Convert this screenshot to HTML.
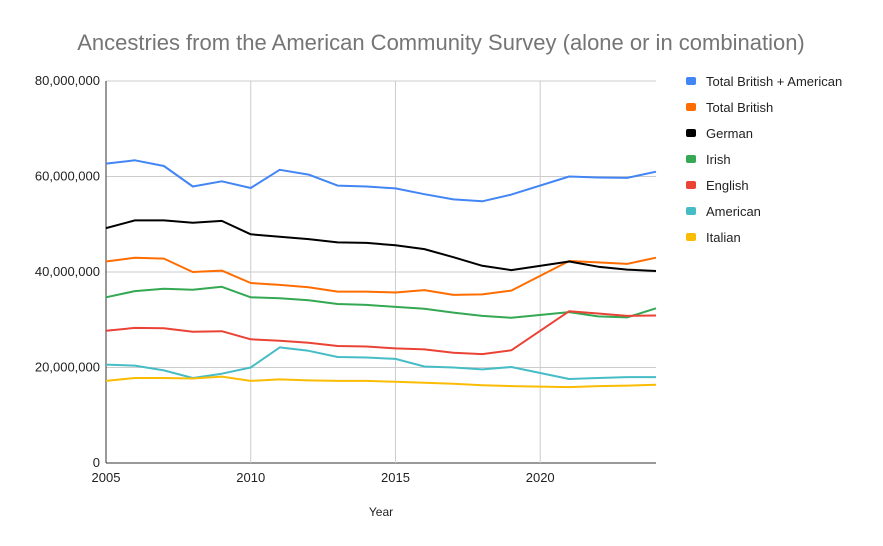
<!DOCTYPE html>
<html><head><meta charset="utf-8"><style>
body{margin:0;background:#fff;font-family:"Liberation Sans",Arial,sans-serif}
svg{display:block}
</style></head><body>
<svg id="chart" width="883" height="546">
<text x="441" y="50" text-anchor="middle" font-size="22" fill="#757575">Ancestries from the American Community Survey (alone or in combination)</text>
<g id="grid"></g><g id="lines"></g><g id="legend"></g>
<text x="381" y="516" text-anchor="middle" font-size="12" fill="#222">Year</text>
</svg>
<script>
const years=[2005,2006,2007,2008,2009,2010,2011,2012,2013,2014,2015,2016,2017,2018,2019,2020,2021,2022,2023,2024];
const names=["Total British + American","Total British","German","Irish","English","American","Italian"];
const colors=["#4285f4","#ff6d01","#000000","#34a853","#ea4335","#46bdc6","#fbbc04"];
const totalBA=[62.7,63.4,62.2,57.9,59.0,57.6,61.4,60.4,58.1,57.9,57.5,56.3,55.2,54.8,56.2,null,60.0,59.8,59.7,61.0];
const totalBritish=[42.2,43.0,42.8,40.0,40.3,37.7,37.3,36.8,35.9,35.9,35.7,36.2,35.2,35.3,36.1,null,42.3,42.0,41.7,43.0];
const german=[49.2,50.8,50.8,50.3,50.7,47.9,47.4,46.9,46.2,46.1,45.6,44.8,43.1,41.3,40.4,null,42.2,41.1,40.5,40.2];
const irish=[34.7,36.0,36.5,36.3,36.9,34.7,34.5,34.1,33.3,33.1,32.7,32.3,31.5,30.8,30.4,null,31.6,30.7,30.5,32.4];
const english=[27.7,28.3,28.2,27.5,27.6,25.9,25.6,25.2,24.5,24.4,24.0,23.8,23.1,22.8,23.6,null,31.8,31.3,30.8,30.9];
const american=[20.6,20.4,19.4,17.8,18.7,20.0,24.2,23.5,22.2,22.1,21.8,20.2,20.0,19.6,20.1,null,17.6,17.8,18.0,18.0];
const italian=[17.2,17.8,17.8,17.7,18.1,17.2,17.5,17.3,17.2,17.2,17.0,16.8,16.6,16.3,16.1,null,15.9,16.1,16.2,16.4];
const yTicks=[0,20,40,60,80];
const yTickLabels=["0","20,000,000","40,000,000","60,000,000","80,000,000"];
const xTicks=[2005,2010,2015,2020];
const series=[totalBA,totalBritish,german,irish,english,american,italian];
const NS="http://www.w3.org/2000/svg";
const X0=106,X1=656,Y0=463,Y1=81;
const xs=y=>X0+(y-2005)/(2024-2005)*(X1-X0);
const ys=v=>Y0-v/80*(Y0-Y1);
function mk(t,a,p){const e=document.createElementNS(NS,t);for(const k in a)e.setAttribute(k,a[k]);p.appendChild(e);return e;}
const grid=document.getElementById('grid');
yTicks.forEach((t,i)=>{
 const l=mk('line',{x1:X0,x2:X1,y1:ys(t),y2:ys(t),stroke:i==0?'#333':'#ccc','stroke-width':1},grid);
 
 
 const tx=mk('text',{x:X0-6,y:ys(t)+4,'text-anchor':'end','font-size':13,fill:'#222'},grid);
 tx.textContent=yTickLabels[i];
 
 
});
xTicks.forEach((t,i)=>{
 const l=mk('line',{x1:xs(t),x2:xs(t),y1:Y1,y2:Y0,stroke:i==0?'#333':'#ccc','stroke-width':1},grid);
 
 
 const tx=mk('text',{x:xs(t),y:Y0+19,'text-anchor':'middle','font-size':13,fill:'#222'},grid);
 tx.textContent=t;
 
 
});
const lines=document.getElementById('lines');
series.forEach((s,i)=>{
 const pts=[];years.forEach((y,j)=>{if(s[j]!=null)pts.push(xs(y).toFixed(1)+','+ys(s[j]).toFixed(1));});
 const p=mk('polyline',{points:pts.join(' '),fill:'none',stroke:colors[i],'stroke-width':2,'stroke-linejoin':'round'},lines);
 
 
});
const lg=document.getElementById('legend');
names.forEach((n,i)=>{
 const g=mk('g',{},lg);
 
 
 mk('rect',{x:686,y:77+i*26,width:10,height:8,rx:2,fill:colors[i]},g);
 const t=mk('text',{x:706,y:86+i*26,'font-size':13,fill:'#222'},g);
 t.textContent=n;
});
</script>
</body></html>
